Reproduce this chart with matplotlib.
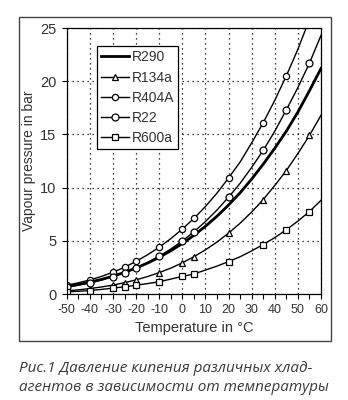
import numpy as np
import matplotlib.pyplot as plt
from matplotlib.patches import Rectangle

# Температура, °C (шаг 5)
t = np.arange(-50, 65, 5)

# Давление кипения, бар
p_r290 = [0.71, 0.89, 1.11, 1.37, 1.68, 2.03, 2.44, 2.91, 3.45, 4.06, 4.74, 5.51,
          6.36, 7.31, 8.36, 9.51, 10.8, 12.2, 13.7, 15.3, 17.1, 19.1, 21.2]
p_r134a = [0.29, 0.39, 0.51, 0.66, 0.84, 1.06, 1.33, 1.64, 2.01, 2.43, 2.93, 3.50,
           4.15, 4.88, 5.72, 6.65, 7.70, 8.87, 10.2, 11.6, 13.2, 14.9, 16.8]
p_r404a = [0.83, 1.05, 1.32, 1.65, 2.05, 2.51, 3.07, 3.69, 4.39, 5.20, 6.10, 7.10,
           8.22, 9.48, 10.9, 12.4, 14.2, 16.1, 18.2, 20.5, 23.0, 25.8, 28.8]
p_r22 = [0.645, 0.83, 1.05, 1.31, 1.64, 2.01, 2.45, 2.96, 3.55, 4.22, 4.98, 5.84,
         6.81, 7.89, 9.10, 10.4, 11.9, 13.5, 15.3, 17.3, 19.4, 21.7, 24.3]
p_r600a = [0.20, 0.26, 0.32, 0.43, 0.55, 0.68, 0.82, 0.98, 1.15, 1.40, 1.65, 1.88,
           2.25, 2.62, 3.05, 3.50, 4.05, 4.65, 5.30, 6.03, 6.85, 7.75, 8.80]

# точки с маркерами: -50,-40,-30,-25,-20,-10,0,5,20,35,45,55
marks = [0, 2, 4, 5, 6, 8, 10, 11, 14, 17, 19, 21]

plt.rcParams['font.family'] = ['Liberation Sans', 'DejaVu Sans']
plt.rcParams['axes.unicode_minus'] = False
txt = '#333333'

fig = plt.figure(figsize=(3.48, 4.0), dpi=100)
fig.patches.append(Rectangle((0.0546, 0.1475), 0.8966, 0.81, transform=fig.transFigure,
                             fill=False, edgecolor='#444444', linewidth=1.0))

ax = fig.add_axes([0.1917, 0.265, 0.7307, 0.665])
kw = dict(color='black', linewidth=1.0, markerfacecolor='white',
          markeredgecolor='black', markeredgewidth=0.9, markevery=marks)
ax.plot(t, p_r290, color='black', linewidth=2.0, label='R290')
ax.plot(t, p_r134a, marker='^', markersize=5, label='R134a', **kw)
ax.plot(t, p_r404a, marker='o', markersize=4.5, label='R404A', **kw)
ax.plot(t, p_r22, marker='o', markersize=5, label='R22', **kw)
ax.plot(t, p_r600a, marker='s', markersize=5, label='R600a', **kw)

ax.set_xlim(-50, 60)
ax.set_ylim(0, 25)
ax.set_xticks(np.arange(-50, 61, 10))
ax.set_xticks(np.arange(-45, 60, 10), minor=True)
ax.set_yticks(np.arange(0, 26, 5))
ax.tick_params(which='both', direction='out', length=3.5, width=0.8, colors='black',
               labelcolor=txt, pad=4)
ax.tick_params(axis='x', labelsize=9)
ax.tick_params(axis='y', labelsize=10.5)
ax.grid(True, which='major', color='black', linestyle=(0, (1, 3)), linewidth=0.9)
for s in ax.spines.values():
    s.set_linewidth(0.9)

ax.set_xlabel('Temperature in °C', fontsize=10.5, color=txt, labelpad=3)
ax.set_ylabel('Vapour pressure in bar', fontsize=10, color=txt, labelpad=3)

leg = ax.legend(loc='upper left', bbox_to_anchor=(0.119, 0.932), borderaxespad=0,
                fancybox=False, edgecolor='black', fontsize=10, handlelength=2.0,
                handletextpad=0.2, labelspacing=0.45, borderpad=0.3, framealpha=1)
leg.get_frame().set_linewidth(0.9)
for text in leg.get_texts():
    text.set_color(txt)

fig.text(0.055, 0.055, 'Рис.1 Давление кипения различных хлад-\nагентов в зависимости от температуры',
         fontsize=11, style='italic', color='#3a3a3a', family=['Open Sans', 'DejaVu Sans'],
         linespacing=1.35, va='center')

plt.savefig('out.png', dpi=100)
